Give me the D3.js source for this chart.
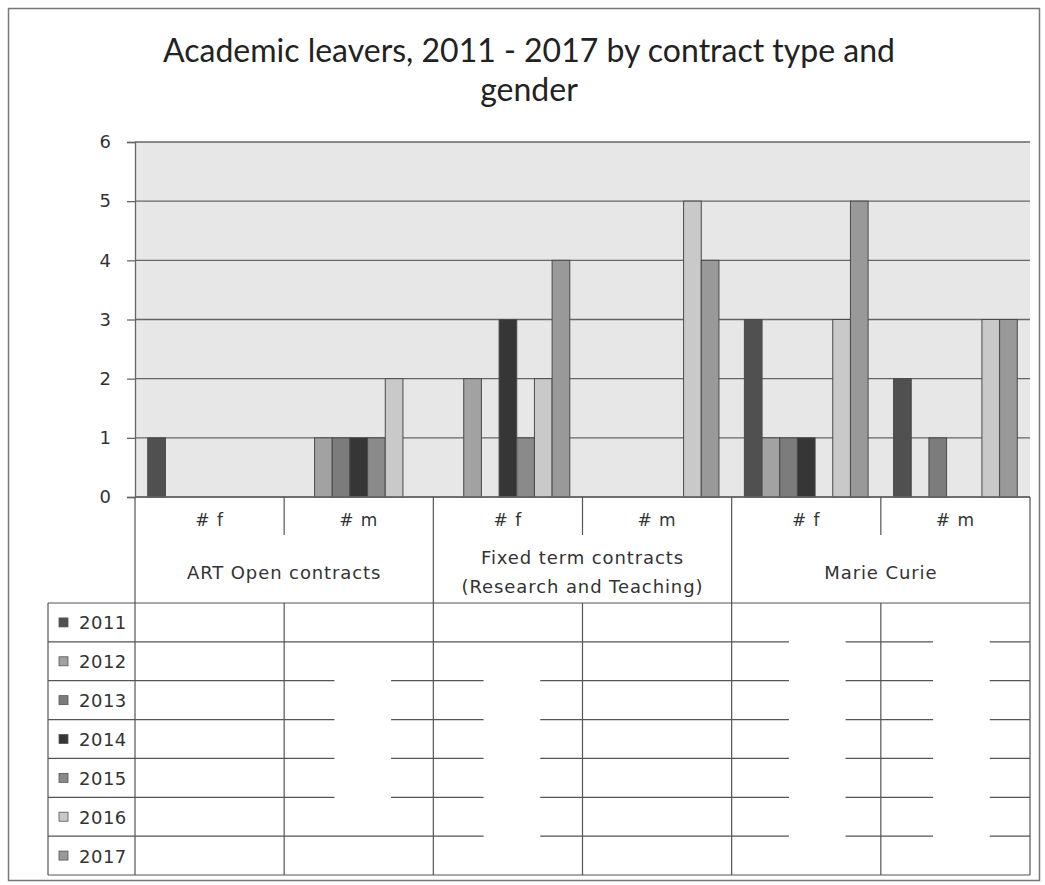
<!DOCTYPE html>
<html>
<head>
<meta charset="utf-8">
<script src="https://cdn.jsdelivr.net/npm/d3@7"></script>
<style>
  html, body { margin: 0; padding: 0; background: #fff; }
  svg { display: block; }
</style>
</head>
<body>
<svg id="chart" width="1045" height="885"></svg>
<script>
// Category structure (contract type x gender)
const contractTypes = ["ART Open contracts", "Fixed term contracts|(Research and Teaching)", "Marie Curie"];
const genders = ["# f", "# m"];
const years = ["2011", "2012", "2013", "2014", "2015", "2016", "2017"];

// Leavers per year, in category order: ART f, ART m, Fixed f, Fixed m, MC f, MC m
const y2011 = [1, 0, 0, 0, 3, 2];
const y2012 = [0, 1, 2, 0, 1, 0];
const y2013 = [0, 1, 0, 0, 1, 1];
const y2014 = [0, 1, 3, 0, 1, 0];
const y2015 = [0, 1, 1, 0, 0, 0];
const y2016 = [0, 2, 2, 5, 3, 3];
const y2017 = [0, 0, 4, 4, 5, 3];
const yTicks = [0, 1, 2, 3, 4, 5, 6];

const seriesValues = [y2011, y2012, y2013, y2014, y2015, y2016, y2017];
const yearColors = ["#505050", "#a2a2a2", "#7c7c7c", "#363636", "#8a8a8a", "#c9c9c9", "#999999"];

// Table cells whose values are left blank: column index, first and last row rule interrupted
const blankedColumns = [
  { col: 1, from: 2, to: 5, shift: 4 },
  { col: 2, from: 2, to: 6, shift: 4 },
  { col: 4, from: 1, to: 6, shift: 11 },
  { col: 5, from: 1, to: 6, shift: 6 }
];

const categories = [];
contractTypes.forEach((c, ci) => genders.forEach(g => categories.push({ key: ci + g, contract: ci, gender: g })));

const svg = d3.select("#chart");
const plot = { left: 135, right: 1030, top: 142, bottom: 497 };
const tableLeft = 48, catRowBottom = 535, tableTop = 603, tableBottom = 875;
const lineCol = "#555";
const textCol = "#333";
const labelFont = "'DejaVu Sans', Verdana, sans-serif";

// outer frame
svg.append("rect").attr("x", 8.5).attr("y", 8.5).attr("width", 1031).attr("height", 872)
  .attr("fill", "#fff").attr("stroke", "#777").attr("stroke-width", 1.5);

// title
const title = svg.append("text").attr("text-anchor", "middle")
  .attr("font-family", "Lato, 'Open Sans', sans-serif").attr("font-size", 32).attr("fill", "#222");
title.append("tspan").attr("x", 529).attr("y", 62).text("Academic leavers, 2011 - 2017 by contract type and");
title.append("tspan").attr("x", 529).attr("y", 101).text("gender");

// scales
const x0 = d3.scaleBand().domain(categories.map(d => d.key)).range([plot.left, plot.right]).padding(0);
const x1 = d3.scaleBand().domain(years).range([0, x0.bandwidth()]).paddingInner(0).paddingOuter(0.72);
const y = d3.scaleLinear().domain([0, 6]).range([plot.bottom, plot.top]);

// plot background
svg.append("rect").attr("x", plot.left).attr("y", plot.top)
  .attr("width", plot.right - plot.left).attr("height", plot.bottom - plot.top)
  .attr("fill", "#e7e7e7");

// gridlines
svg.append("g").selectAll("line").data(yTicks).join("line")
  .attr("x1", plot.left).attr("x2", plot.right)
  .attr("y1", d => y(d)).attr("y2", d => y(d))
  .attr("stroke", "#666").attr("stroke-width", 1.3);

// y axis
const yAxis = svg.append("g").attr("transform", `translate(${plot.left},0)`)
  .call(d3.axisLeft(y).tickValues(yTicks).tickSize(8).tickPadding(16).tickFormat(d3.format("d")));
yAxis.select(".domain").attr("stroke", "#666").attr("stroke-width", 1.3);
yAxis.selectAll(".tick line").attr("stroke", "#666").attr("stroke-width", 1.3);
yAxis.selectAll(".tick text").attr("font-family", labelFont)
  .attr("font-size", 18).attr("fill", textCol);

// bars
const barData = [];
categories.forEach((c, ci) => years.forEach((yr, yi) => {
  barData.push({ cat: c.key, year: yr, value: seriesValues[yi][ci], color: yearColors[yi] });
}));
svg.append("g").selectAll("rect").data(barData.filter(d => d.value > 0)).join("rect")
  .attr("x", d => x0(d.cat) + x1(d.year))
  .attr("y", d => y(d.value))
  .attr("width", x1.bandwidth())
  .attr("height", d => y(0) - y(d.value))
  .attr("fill", d => d.color)
  .attr("stroke", "#4a4a4a").attr("stroke-width", 1);

// baseline on top of bars
svg.append("line").attr("x1", plot.left).attr("x2", plot.right)
  .attr("y1", y(0)).attr("y2", y(0)).attr("stroke", "#666").attr("stroke-width", 1.3);

// ---- data table under the axis ----
const tbl = svg.append("g").attr("stroke", lineCol).attr("stroke-width", 1.2);
const groupEdges = [0, 2, 4].map(i => x0(categories[i].key)).concat([plot.right]);
const genderEdges = [1, 3, 5].map(i => x0(categories[i].key));

// contract-type boundaries span the whole table
tbl.selectAll(".gEdge").data(groupEdges).join("line")
  .attr("x1", d => d).attr("x2", d => d).attr("y1", plot.bottom).attr("y2", tableBottom);
// gender separators: header row and data rows
tbl.selectAll(".fmHead").data(genderEdges).join("line").attr("class", "fmHead")
  .attr("x1", d => d).attr("x2", d => d).attr("y1", plot.bottom).attr("y2", catRowBottom);
tbl.selectAll(".fmBody").data(genderEdges).join("line").attr("class", "fmBody")
  .attr("x1", d => d).attr("x2", d => d).attr("y1", tableTop).attr("y2", tableBottom);

const rowY = d3.scaleBand().domain(years).range([tableTop, tableBottom]);
const rowLines = years.map(yr => rowY(yr)).concat([tableBottom]);
tbl.selectAll(".row").data(rowLines).join("line").attr("class", "row")
  .attr("x1", tableLeft).attr("x2", plot.right).attr("y1", d => d).attr("y2", d => d);
tbl.append("line").attr("x1", tableLeft).attr("x2", tableLeft).attr("y1", tableTop).attr("y2", tableBottom);

// blank out the value area of withheld cells (rules interrupted in the middle of the column)
const gapW = 0.38 * x0.bandwidth();
const gaps = [];
blankedColumns.forEach(b => {
  const cx = x0(categories[b.col].key) + x0.bandwidth() / 2 + b.shift;
  for (let r = b.from; r <= b.to; r++) gaps.push({ x: cx - gapW / 2, y: rowLines[r] });
});
svg.append("g").selectAll("rect").data(gaps).join("rect")
  .attr("x", d => d.x).attr("y", d => d.y - 2).attr("width", gapW).attr("height", 4)
  .attr("fill", "#fff");

// gender labels
svg.append("g").selectAll("text").data(categories).join("text")
  .attr("x", d => x0(d.key) + x0.bandwidth() / 2).attr("y", 526)
  .attr("text-anchor", "middle")
  .attr("font-family", labelFont).attr("font-size", 17).attr("letter-spacing", 1).attr("fill", textCol)
  .text(d => d.gender);

// contract-type labels
contractTypes.forEach((c, i) => {
  const lines = c.split("|");
  const cx = (groupEdges[i] + groupEdges[i + 1]) / 2;
  const t = svg.append("text").attr("text-anchor", "middle")
    .attr("font-family", labelFont).attr("font-size", 18).attr("letter-spacing", 0.9).attr("fill", textCol);
  const y0 = lines.length === 1 ? 579 : 564;
  lines.forEach((ln, k) => t.append("tspan").attr("x", cx).attr("y", y0 + k * 29).text(ln));
});

// legend keys in the first table column
const leg = svg.append("g").selectAll("g").data(years).join("g")
  .attr("transform", d => `translate(0,${rowY(d) + rowY.bandwidth() / 2})`);
leg.append("rect").attr("x", 59).attr("y", -4.5).attr("width", 9).attr("height", 9)
  .attr("fill", (d, i) => yearColors[i]).attr("stroke", "#555").attr("stroke-width", 0.8);
leg.append("text").attr("x", 79).attr("y", 7)
  .attr("font-family", labelFont).attr("font-size", 18).attr("letter-spacing", 0.5).attr("fill", textCol)
  .text(d => d);
</script>
</body>
</html>
